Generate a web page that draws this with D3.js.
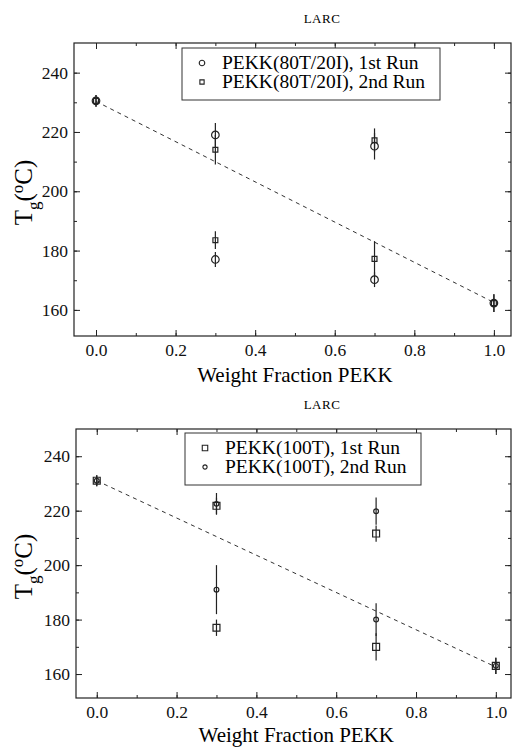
<!DOCTYPE html>
<html>
<head>
<meta charset="utf-8">
<script src="https://cdn.jsdelivr.net/npm/d3@7"></script>
<style>
  body { margin: 0; background: #fff; }
  svg { display: block; }
  svg text { font-family: "Liberation Serif", "DejaVu Serif", serif; }
  .axis path, .axis line { stroke: #222; }
</style>
</head>
<body>
<div class="graph"></div>
<script>
"use strict";

// weight fraction PEKK
var fractions = [0, 0.3, 0.3, 0.7, 0.7, 1.0];

// panel 1: PEKK(80T/20I) blends
var run1Top = [230.5, 219, 177, 215.2, 170.2, 162.3];
var err1Top = [2, 4, 2.5, 4.5, 2.5, 3];
var run2Top = [230.5, 214, 183.5, 217.2, 177.2, 162.3];
var err2Top = [2, 5, 3, 4, 6, 3];

// panel 2: PEKK(100T) blends
var run1Bot = [231, 221.8, 177, 211.6, 170, 163];
var err1Bot = [2, 3, 3, 3, 5, 3];
var run2Bot = [231, 222.5, 191, 219.8, 180, 163];
var err2Bot = [2, 4, 9, 5, 6, 3];

// additivity line
var mixX = [0, 1];
var mixTop = [230.3, 162.5];
var mixBot = [231, 162.6];

var xTicks = [0, 0.2, 0.4, 0.6, 0.8, 1.0];
var yTicks = [160, 180, 200, 220, 240];

var width = 513, height = 747;

var svg = d3.select('.graph').append('svg')
    .attr('width', width)
    .attr('height', height)

function serif(s) {
    s.attr('font-family', null)
        .attr('font-size', 17.5)
    s.select('.domain').remove()
    s.selectAll('text').attr('fill', '#111')
}

function panel(cfg) {
    var x = d3.scaleLinear()
        .domain(cfg.xDomain)
        .range([cfg.left, cfg.right])
    var y = d3.scaleLinear()
        .domain([151.2, 250])
        .range([cfg.bottom, cfg.top])

    var g = svg.append('g')

    // small title
    g.append('text')
        .attr('x', 322)
        .attr('y', cfg.top - 20)
        .attr('text-anchor', 'middle')
        .attr('font-size', '13px')
        .attr('letter-spacing', '0.5px')
        .text('LARC')

    // frame
    g.append('rect')
        .attr('x', cfg.left)
        .attr('y', cfg.top)
        .attr('width', cfg.right - cfg.left)
        .attr('height', cfg.bottom - cfg.top)
        .attr('fill', 'none')
        .attr('stroke', '#222')
        .attr('stroke-width', 1.2)

    var minorX = d3.range(0, 1.01, 0.1)
    var minorY = d3.range(160, 250, 10)

    // bottom axis, ticks pointing in
    g.append('g')
        .attr('class', 'axis')
        .attr('transform', 'translate(0,' + cfg.bottom + ')')
        .call(d3.axisBottom(x).tickValues(minorX).tickSize(-3).tickFormat(''))
        .call(serif)
    g.append('g')
        .attr('class', 'axis')
        .attr('transform', 'translate(0,' + cfg.bottom + ')')
        .call(d3.axisBottom(x).tickValues(xTicks).tickSize(-6).tickPadding(8).tickFormat(d3.format('.1f')))
        .call(serif)

    // top axis
    g.append('g')
        .attr('class', 'axis')
        .attr('transform', 'translate(0,' + cfg.top + ')')
        .call(d3.axisTop(x).tickValues(minorX).tickSize(-3).tickFormat(''))
        .call(serif)
    g.append('g')
        .attr('class', 'axis')
        .attr('transform', 'translate(0,' + cfg.top + ')')
        .call(d3.axisTop(x).tickValues(xTicks).tickSize(-6).tickFormat(''))
        .call(serif)

    // left axis
    g.append('g')
        .attr('class', 'axis')
        .attr('transform', 'translate(' + cfg.left + ',0)')
        .call(d3.axisLeft(y).tickValues(minorY).tickSize(-3).tickFormat(''))
        .call(serif)
    g.append('g')
        .attr('class', 'axis')
        .attr('transform', 'translate(' + cfg.left + ',0)')
        .call(d3.axisLeft(y).tickValues(yTicks).tickSize(-6).tickPadding(6))
        .call(serif)

    // right axis
    g.append('g')
        .attr('class', 'axis')
        .attr('transform', 'translate(' + cfg.right + ',0)')
        .call(d3.axisRight(y).tickValues(minorY).tickSize(-3).tickFormat(''))
        .call(serif)
    g.append('g')
        .attr('class', 'axis')
        .attr('transform', 'translate(' + cfg.right + ',0)')
        .call(d3.axisRight(y).tickValues(yTicks).tickSize(-6).tickFormat(''))
        .call(serif)

    // axis titles
    g.append('text')
        .attr('x', (x(0) + x(1)) / 2)
        .attr('y', cfg.bottom + cfg.titleGap)
        .attr('text-anchor', 'middle')
        .attr('font-size', '21px')
        .text('Weight Fraction PEKK')

    var yl = g.append('text')
        .attr('transform', 'translate(32,' + ((cfg.top + cfg.bottom) / 2 + 3) + ') rotate(-90)')
        .attr('text-anchor', 'middle')
        .attr('font-size', '25px')
    yl.append('tspan').text('T')
    yl.append('tspan').attr('font-size', '17px').attr('dy', 7).text('g')
    yl.append('tspan').attr('dy', -7).text('(')
    yl.append('tspan').attr('font-size', '17px').attr('dy', -9).text('o')
    yl.append('tspan').attr('dy', 9).text('C)')

    // dashed additivity line
    var line = d3.line()
        .x(function(d, i) { return x(mixX[i]) })
        .y(function(d) { return y(d) })
    g.append('path')
        .datum(cfg.mix)
        .attr('d', line)
        .attr('fill', 'none')
        .attr('stroke', '#333')
        .attr('stroke-width', 1)
        .attr('stroke-dasharray', '4,4')

    // error bars and markers
    cfg.series.forEach(function(s) {
        var pts = s.values.map(function(v, i) {
            return { x: fractions[i], y: v, e: s.errors[i] }
        })
        g.append('g').selectAll('line')
            .data(pts)
            .enter().append('line')
            .attr('x1', function(d) { return x(d.x) })
            .attr('x2', function(d) { return x(d.x) })
            .attr('y1', function(d) { return y(d.y - d.e) })
            .attr('y2', function(d) { return y(d.y + d.e) })
            .attr('stroke', '#222')
            .attr('stroke-width', 1.2)

        var sym = d3.symbol().type(s.shape).size(s.size)
        g.append('g').selectAll('path')
            .data(pts)
            .enter().append('path')
            .attr('d', sym)
            .attr('transform', function(d) {
                return 'translate(' + x(d.x) + ',' + y(d.y) + ')'
            })
            .attr('fill', 'none')
            .attr('stroke', '#222')
            .attr('stroke-width', 1.2)
    })

    // legend
    var lg = g.append('g')
    lg.append('rect')
        .attr('x', cfg.legend[0])
        .attr('y', cfg.legend[1])
        .attr('width', cfg.legend[2])
        .attr('height', cfg.legend[3])
        .attr('fill', '#fff')
        .attr('stroke', '#333')
        .attr('stroke-width', 1)
    cfg.series.forEach(function(s, i) {
        var ly = cfg.legend[1] + 15 + i * 19
        lg.append('path')
            .attr('d', d3.symbol().type(s.shape).size(s.legendSize)())
            .attr('transform', 'translate(' + (cfg.legend[0] + 20) + ',' + ly + ')')
            .attr('fill', 'none')
            .attr('stroke', '#222')
            .attr('stroke-width', 1.1)
        lg.append('text')
            .attr('x', cfg.legend[0] + 40)
            .attr('y', ly + 6)
            .attr('font-size', '19.5px')
            .text(s.name)
    })
}

panel({
    left: 74, right: 511, top: 43, bottom: 336, titleGap: 46,
    xDomain: [-0.0553, 1.043],
    mix: mixTop,
    legend: [182, 48, 258, 52],
    series: [
        { name: 'PEKK(80T/20I), 1st Run', values: run1Top, errors: err1Top,
          shape: d3.symbolCircle, size: 45, legendSize: 24 },
        { name: 'PEKK(80T/20I), 2nd Run', values: run2Top, errors: err2Top,
          shape: d3.symbolSquare, size: 24, legendSize: 18 }
    ]
})

panel({
    left: 76, right: 511, top: 429, bottom: 698, titleGap: 44,
    xDomain: [-0.052, 1.038],
    mix: mixBot,
    legend: [185, 433, 236, 52],
    series: [
        { name: 'PEKK(100T), 1st Run', values: run1Bot, errors: err1Bot,
          shape: d3.symbolSquare, size: 48, legendSize: 30 },
        { name: 'PEKK(100T), 2nd Run', values: run2Bot, errors: err2Bot,
          shape: d3.symbolCircle, size: 18, legendSize: 14 }
    ]
})
</script>
</body>
</html>
